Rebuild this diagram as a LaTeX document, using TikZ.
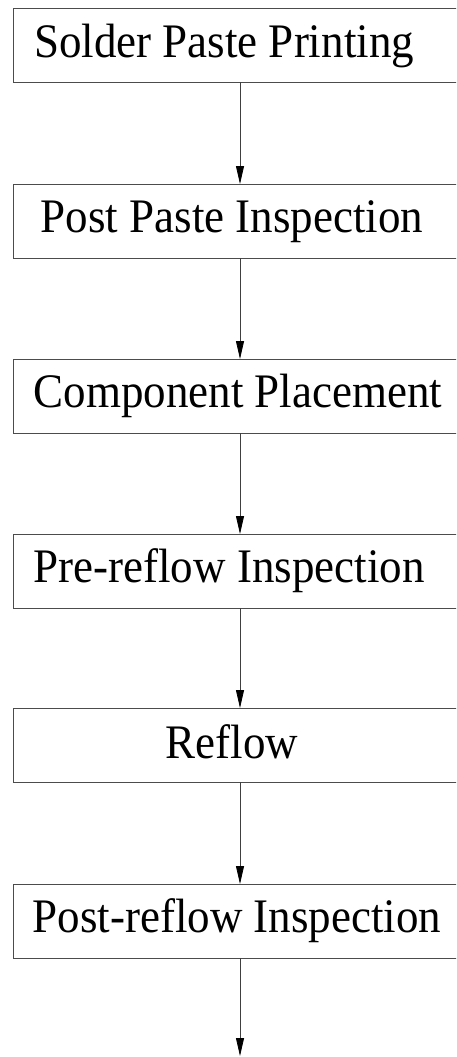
\documentclass[tikz,border=0pt]{standalone}
\usepackage{fontspec}
\setmainfont{Liberation Serif}
\usetikzlibrary{arrows.meta}
\begin{document}
\begin{tikzpicture}[x=1pt,y=-1pt,
  stepbox/.style={draw=black!70,line width=0.9pt,minimum width=454pt,minimum height=74pt,inner sep=0pt,outer sep=0pt},
  lbl/.style={anchor=base,inner sep=0pt,font=\fontsize{45}{50}\selectfont,yscale=1.07},
  conn/.style={draw=black!75,line width=0.8pt,-{Triangle[length=18pt,width=8pt,fill=black,color=black]}}]
\useasboundingbox (0,0) rectangle (456,1057);
\clip (0,0) rectangle (456,1057);
\foreach \n/\t in {a/8,b/184,c/359,d/534,e/708,f/884}
  \node[stepbox] (\n) at (240,\t+37) {};
\node[lbl] (ta) at (224,57) {Solder Paste Printing};
\node[lbl] (tb) at (232,184+48) {Post Paste Inspection};
\node[lbl] (tc) at (238,359+48) {Component Placement};
\node[lbl] (td) at (229,534+48) {Pre-reflow Inspection};
\node[lbl] (te) at (232,708+50) {Reflow};
\node[lbl] (tf) at (237,884+48) {Post-reflow Inspection};
\coordinate (end) at (240,1056);
\draw[conn] (a) -- (b);
\draw[conn] (b) -- (c);
\draw[conn] (c) -- (d);
\draw[conn] (d) -- (e);
\draw[conn] (e) -- (f);
\draw[conn] (f) -- (end);
\end{tikzpicture}
\end{document}
